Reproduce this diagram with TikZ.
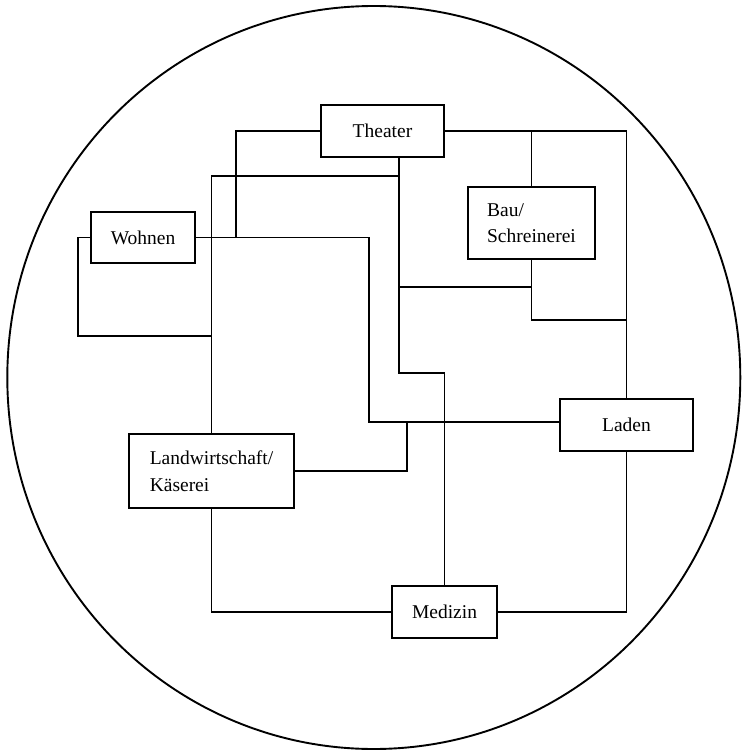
\documentclass[tikz,border=0pt]{standalone}
\usepackage{fontspec}
\setmainfont{Liberation Serif}
\usetikzlibrary{calc}
\begin{document}
\begin{tikzpicture}[x=1pt,y=-1pt,
  box/.style={draw,line width=1.9pt,rectangle,inner sep=0pt,font=\fontsize{19.5}{26.5}\selectfont,align=left},
  conn/.style={line width=1.8pt,line join=miter,line cap=rect}]
\useasboundingbox (0,0) rectangle (743,751);
\draw[line width=1.9pt] (373.8,377.5) ellipse [x radius=366.5, y radius=371.5];
% nodes
\node[box,minimum width=104pt,minimum height=51pt] (wohnen) at (143,237.5) {Wohnen};
\node[box,minimum width=123pt,minimum height=52pt] (theater) at (382.5,131) {Theater};
\node[box,minimum width=127pt,minimum height=72pt] (bau) at (531.5,223) {Bau/\\Schreinerei};
\node[box,minimum width=165pt,minimum height=74pt] (land) at (211.5,471) {Landwirtschaft/\\Käserei};
\node[box,minimum width=133pt,minimum height=52pt] (laden) at (626.5,425) {Laden};
\node[box,minimum width=105pt,minimum height=52pt] (medizin) at (444.5,612) {Medizin};
% connectors
\draw[conn] (wohnen.west) -- (78,237.5) -- (78,336) -- (211.5,336);
\draw[conn] (wohnen.east) -- (369,237.5) -- (369,422) -- ($(laden.west)+(0,-3)$);
\draw[conn] (theater.west) -- (236,131) -- (236,237.5);
\draw[conn] (theater.east) -- (626.5,131) -- (laden.north);
\draw[conn] (bau.north) -- (531.5,131);
\draw[conn] ($(theater.south)+(16.5,0)$) -- (399,373) -- (444.5,373) -- (medizin.north);
\draw[conn] (land.north) -- (211.5,176) -- (399,176);
\draw[conn] (399,287) -- (531.5,287);
\draw[conn] (bau.south) -- (531.5,320) -- (626.5,320);
\draw[conn] (land.east) -- (407,471) -- (407,422);
\draw[conn] (land.south) -- (211.5,612) -- (medizin.west);
\draw[conn] (laden.south) -- (626.5,612) -- (medizin.east);
\end{tikzpicture}
\end{document}
